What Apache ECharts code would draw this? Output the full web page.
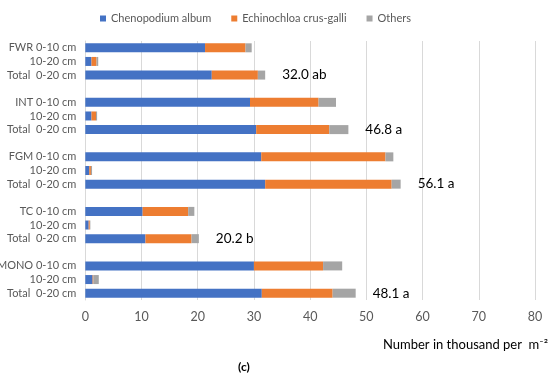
<!DOCTYPE html>
<html><head><meta charset="utf-8">
<script src="https://cdn.jsdelivr.net/npm/echarts@6/dist/echarts.min.js"></script>
<style>html,body{margin:0;padding:0;background:#fff}#c{width:550px;height:383px}</style>
</head><body><div id="c"></div>
<script>
var categories = ['FWR 0-10','FWR 10-20','FWR Total','gap1','INT 0-10','INT 10-20','INT Total','gap2','FGM 0-10','FGM 10-20','FGM Total','gap3','TC 0-10','TC 10-20','TC Total','gap4','MONO 0-10','MONO 10-20','MONO Total'];
var tickLabels = ['FWR 0-10 cm','10-20 cm','Total  0-20 cm','','INT 0-10 cm','10-20 cm','Total  0-20 cm','','FGM 0-10 cm','10-20 cm','Total  0-20 cm','','TC 0-10 cm','10-20 cm','Total  0-20 cm','','MONO 0-10 cm','10-20 cm','Total  0-20 cm'];
var chenopodium = [21.3,1.1,22.5,null,29.3,1.1,30.4,null,31.3,0.7,32.0,null,10.2,0.6,10.7,null,30.0,1.3,31.4];
var echinochloa = [7.2,0.9,8.2,null,12.2,0.8,13.0,null,22.1,0.3,22.5,null,8.1,0.2,8.2,null,12.3,0.15,12.6];
var others = [1.1,0.3,1.3,null,3.1,0.2,3.4,null,1.4,0.2,1.6,null,1.1,0.1,1.3,null,3.4,0.95,4.1];
var totalLabels = {2:'32.0 ab',6:'46.8 a',10:'56.1 a',14:'20.2 b',18:'48.1 a'};
var xTicks = [0,10,20,30,40,50,60,70,80];

var font = 'Lato';
var othersData = others.map(function(v,i){
  if (totalLabels[i]) return {value:v, label:{show:true, position:'right', distance:17, formatter:totalLabels[i], color:'#000', fontSize:13.5, fontFamily:font}};
  return v;
});
var chart = echarts.init(document.getElementById('c'), null, {renderer:'canvas'});
chart.setOption({
  animation:false,
  legend:{top:8, left:95, itemWidth:6, itemHeight:6, itemGap:20, icon:'rect',
    textStyle:{color:'#595959', fontSize:11, fontFamily:font}},
  grid:{left:85.3, right:15, top:41, bottom:83, outerBoundsMode:'none', containLabel:false},
  xAxis:{type:'value', min:0, max:80, interval:10,
    axisLine:{show:false}, axisTick:{show:false},
    splitLine:{lineStyle:{color:'#d9d9d9'}},
    axisLabel:{color:'#595959', fontSize:12.5, fontFamily:font, margin:10},
    name:'Number in thousand per  m\u207B\u00B2', nameLocation:'end',
    nameTextStyle:{color:'#000', fontSize:13, fontFamily:font, align:'right', verticalAlign:'top', padding:[38,2,0,0]}},
  yAxis:{type:'category', data:categories, inverse:true,
    axisLine:{show:true, lineStyle:{color:'#d9d9d9'}}, axisTick:{show:false},
    axisLabel:{color:'#595959', fontSize:11, fontFamily:font, margin:9, interval:0,
      formatter:function(v,i){return tickLabels[i];}}},
  graphic:[{type:'text', left:238, top:361, style:{text:'(c)', font:'bold 12px Lato', fill:'#000'}}],
  series:[
    {name:'Chenopodium album', type:'bar', stack:'s', data:chenopodium, barWidth:9, itemStyle:{color:'#4472C4'}},
    {name:'Echinochloa crus-galli', type:'bar', stack:'s', data:echinochloa, barWidth:9, itemStyle:{color:'#ED7D31'}},
    {name:'Others', type:'bar', stack:'s', data:othersData, barWidth:9, itemStyle:{color:'#A5A5A5'}}
  ]
});
</script></body></html>
